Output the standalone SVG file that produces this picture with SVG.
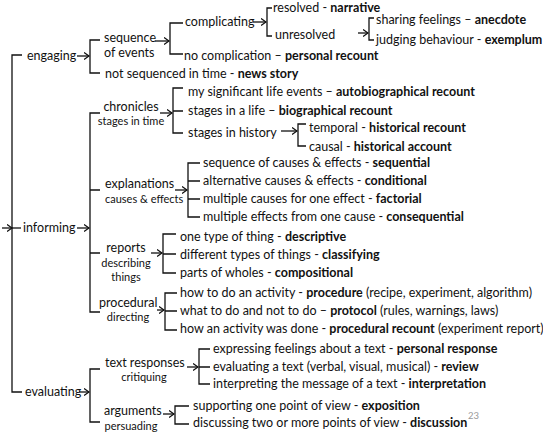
<svg xmlns="http://www.w3.org/2000/svg" width="543" height="433" viewBox="0 0 543 433">
<style>
text{font-family:Lato,"Liberation Sans",sans-serif;font-size:12.5px;fill:#111}
.s{font-size:11px}
.b{font-weight:bold}
.m{text-anchor:middle}
.c{fill:none;stroke:#111;stroke-width:1.3}
.a{fill:none;stroke:#111;stroke-width:1.3;marker-end:url(#ah)}
.pg{fill:#9a9a9a;font-size:9.5px}
</style>
<defs>
<marker id="ah" viewBox="0 0 6 8" refX="5.5" refY="4" markerWidth="6" markerHeight="8" markerUnits="userSpaceOnUse" orient="auto">
<path d="M0.5,0.5 L5.5,4 L0.5,7.5" fill="none" stroke="#111" stroke-width="1.3"/>
</marker>
</defs>
<rect width="543" height="433" fill="#fff"/>
<g id="connectors">
<path class="c" d="M22,55 H12 V392 H22"/>
<path class="a" d="M2,228 H12"/>
<path class="c" d="M12,228 H21"/>
<path class="a" d="M77,56 H89"/>
<path class="c" d="M100,40 H90 V73 H100"/>
<path class="a" d="M155,41 H169"/>
<path class="c" d="M183,23 H170 V54 H183"/>
<path class="a" d="M253,22 H266"/>
<path class="c" d="M272,8 H267 V36 H272"/>
<path class="a" d="M358,33 H368"/>
<path class="c" d="M374,18 H369 V40 H374"/>
<path class="a" d="M77,228 H89"/>
<path class="c" d="M100,113 H90 V312 H100 M90,190 H100 M90,253 H100"/>
<path class="a" d="M160,113 H172"/>
<path class="c" d="M183,88 H173 V133 H183 M173,111 H183"/>
<path class="a" d="M281,131 H297"/>
<path class="c" d="M306,124 H298 V146 H306"/>
<path class="a" d="M175,190 H187"/>
<path class="c" d="M200,163 H188 V217 H200 M188,181 H200 M188,199 H200"/>
<path class="a" d="M151,253 H162"/>
<path class="c" d="M176,234 H163 V273 H176 M163,254 H176"/>
<path class="a" d="M157,310 H164"/>
<path class="c" d="M177,293 H165 V330 H177 M165,311 H177"/>
<path class="a" d="M79,392 H89"/>
<path class="c" d="M100,369 H90 V422 H100"/>
<path class="a" d="M187,367 H198"/>
<path class="c" d="M210,349 H199 V384 H210 M199,367 H210"/>
<path class="a" d="M163,414 H174"/>
<path class="c" d="M189,406 H175 V424 H189"/>
</g>
<g id="n-engaging"><text x="27" y="60">engaging</text></g>
<g id="n-sequence"><text x="104" y="42">sequence</text><text x="104" y="57">of events</text></g>
<g id="n-complicating"><text x="185" y="26">complicating</text></g>
<g id="n-resolved"><text x="273" y="12">resolved - <tspan class="b">narrative</tspan></text></g>
<g id="n-unresolved"><text x="275" y="39">unresolved</text></g>
<g id="n-anecdote"><text x="376" y="24">sharing feelings – <tspan class="b">anecdote</tspan></text></g>
<g id="n-exemplum"><text x="376" y="44">judging behaviour - <tspan class="b">exemplum</tspan></text></g>
<g id="n-personal-recount"><text x="184" y="60">no complication – <tspan class="b">personal recount</tspan></text></g>
<g id="n-news-story"><text x="105" y="78">not sequenced in time - <tspan class="b">news story</tspan></text></g>
<g id="n-informing"><text x="23" y="232">informing</text></g>
<g id="n-chronicles"><text class="m" x="131" y="111">chronicles</text><text class="s m" x="131" y="125">stages in time</text></g>
<g id="n-autobiographical"><text x="188" y="96">my significant life events – <tspan class="b">autobiographical recount</tspan></text></g>
<g id="n-biographical"><text x="188" y="115">stages in a life – <tspan class="b">biographical recount</tspan></text></g>
<g id="n-history"><text x="188" y="137">stages in history</text></g>
<g id="n-historical-recount"><text x="309" y="132">temporal - <tspan class="b">historical recount</tspan></text></g>
<g id="n-historical-account"><text x="309" y="151">causal - <tspan class="b">historical account</tspan></text></g>
<g id="n-explanations"><text x="105" y="188">explanations</text><text class="s" x="105" y="203">causes &amp; effects</text></g>
<g id="n-sequential"><text x="203" y="167">sequence of causes &amp; effects - <tspan class="b">sequential</tspan></text></g>
<g id="n-conditional"><text x="203" y="185">alternative causes &amp; effects - <tspan class="b">conditional</tspan></text></g>
<g id="n-factorial"><text x="203" y="203">multiple causes for one effect - <tspan class="b">factorial</tspan></text></g>
<g id="n-consequential"><text x="203" y="221">multiple effects from one cause - <tspan class="b">consequential</tspan></text></g>
<g id="n-reports"><text class="m" x="126" y="252">reports</text><text class="s m" x="126" y="267">describing</text><text class="s m" x="126" y="281">things</text></g>
<g id="n-descriptive"><text x="180" y="241">one type of thing - <tspan class="b">descriptive</tspan></text></g>
<g id="n-classifying"><text x="180" y="259">different types of things - <tspan class="b">classifying</tspan></text></g>
<g id="n-compositional"><text x="180" y="277">parts of wholes - <tspan class="b">compositional</tspan></text></g>
<g id="n-procedural"><text x="99" y="307">procedural</text><text class="s m" x="128" y="321">directing</text></g>
<g id="n-procedure"><text x="180" y="297">how to do an activity - <tspan class="b">procedure</tspan> (recipe, experiment, algorithm)</text></g>
<g id="n-protocol"><text x="180" y="315">what to do and not to do – <tspan class="b">protocol</tspan> (rules, warnings, laws)</text></g>
<g id="n-procedural-recount"><text x="180" y="333">how an activity was done - <tspan class="b">procedural recount</tspan> (experiment report)</text></g>
<g id="n-evaluating"><text x="25" y="396">evaluating</text></g>
<g id="n-text-responses"><text x="105" y="367">text responses</text><text class="s m" x="144" y="381">critiquing</text></g>
<g id="n-personal-response"><text x="213" y="353">expressing feelings about a text - <tspan class="b">personal response</tspan></text></g>
<g id="n-review"><text x="213" y="371">evaluating a text (verbal, visual, musical) - <tspan class="b">review</tspan></text></g>
<g id="n-interpretation"><text x="213" y="388">interpreting the message of a text - <tspan class="b">interpretation</tspan></text></g>
<g id="n-arguments"><text x="104" y="415">arguments</text><text class="s m" x="131" y="430">persuading</text></g>
<g id="n-exposition"><text x="193" y="410">supporting one point of view - <tspan class="b">exposition</tspan></text></g>
<g id="n-discussion"><text x="193" y="427">discussing two or more points of view - <tspan class="b">discussion</tspan></text></g>
<text class="pg" x="468" y="419">23</text>
</svg>
